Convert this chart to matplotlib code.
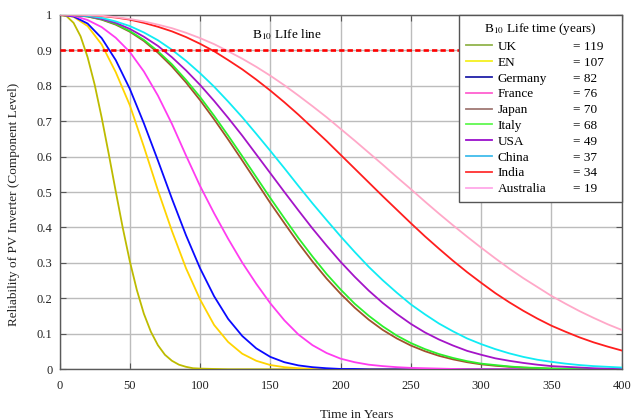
import matplotlib
matplotlib.use("Agg")
import matplotlib.pyplot as plt
from matplotlib.lines import Line2D

plt.rcParams["font.family"] = ["Liberation Serif", "DejaVu Serif"]
plt.rcParams["mathtext.fontset"] = "stix"

# legend entries (order as in the legend box)
countries = ["UK", "EN", "Germany", "France", "Japan", "Italy", "USA", "China", "India", "Australia"]
b10_life = [119, 107, 82, 76, 70, 68, 49, 37, 34, 19]

# UK falls off fast, so it is read every 5 years
years_uk = [0, 5, 10, 15, 20, 25, 30, 35, 40, 45, 50, 55, 60, 65, 70, 75, 80, 85, 90, 95, 100, 120, 400]
rel_uk = [1.0, 0.996, 0.977, 0.939, 0.880, 0.803, 0.710, 0.608, 0.502, 0.399, 0.305, 0.224, 0.157,
          0.106, 0.068, 0.041, 0.024, 0.013, 0.007, 0.003, 0.002, 0.0, 0.0]

# the others every 10 years, 0..400
years = [0, 10, 20, 30, 40, 50, 60, 70, 80, 90, 100, 110, 120, 130, 140, 150, 160, 170, 180, 190, 200,
         210, 220, 230, 240, 250, 260, 270, 280, 290, 300, 310, 320, 330, 340, 350, 360, 370, 380, 390, 400]
rel_en = [1.0, 0.994, 0.968, 0.916, 0.838, 0.745, 0.628, 0.505, 0.390, 0.285, 0.197, 0.125, 0.077, 0.044,
          0.024, 0.012, 0.006, 0.003, 0.001, 0.0, 0.0, 0.0, 0.0, 0.0, 0.0, 0.0, 0.0, 0.0, 0.0, 0.0, 0.0,
          0.0, 0.0, 0.0, 0.0, 0.0, 0.0, 0.0, 0.0, 0.0, 0.0]
rel_germany = [1.0, 0.995, 0.975, 0.934, 0.872, 0.791, 0.694, 0.589, 0.481, 0.378, 0.285, 0.206, 0.142,
               0.094, 0.059, 0.035, 0.020, 0.011, 0.006, 0.003, 0.001, 0.001, 0.0, 0.0, 0.0, 0.0, 0.0,
               0.0, 0.0, 0.0, 0.0, 0.0, 0.0, 0.0, 0.0, 0.0, 0.0, 0.0, 0.0, 0.0, 0.0]
rel_france = [1.0, 0.997, 0.985, 0.965, 0.935, 0.895, 0.840, 0.772, 0.692, 0.603, 0.517, 0.440, 0.368,
              0.301, 0.241, 0.186, 0.138, 0.098, 0.068, 0.046, 0.030, 0.020, 0.013, 0.009, 0.006, 0.004,
              0.003, 0.002, 0.001, 0.0, 0.0, 0.0, 0.0, 0.0, 0.0, 0.0, 0.0, 0.0, 0.0, 0.0, 0.0]
rel_japan = [1.0, 0.999, 0.995, 0.986, 0.972, 0.952, 0.926, 0.893, 0.854, 0.809, 0.759, 0.705, 0.648,
             0.589, 0.529, 0.469, 0.412, 0.356, 0.304, 0.256, 0.213, 0.174, 0.140, 0.111, 0.087, 0.067,
             0.051, 0.038, 0.028, 0.020, 0.014, 0.010, 0.007, 0.005, 0.003, 0.002, 0.001, 0.001, 0.0,
             0.0, 0.0]
rel_italy = [1.0, 0.999, 0.995, 0.987, 0.974, 0.954, 0.929, 0.897, 0.860, 0.816, 0.768, 0.715, 0.659,
             0.601, 0.542, 0.483, 0.426, 0.370, 0.318, 0.269, 0.225, 0.185, 0.151, 0.121, 0.095, 0.074,
             0.057, 0.043, 0.032, 0.023, 0.016, 0.012, 0.008, 0.005, 0.004, 0.002, 0.002, 0.001, 0.001,
             0.0, 0.0]
rel_usa = [1.0, 0.999, 0.996, 0.988, 0.977, 0.960, 0.938, 0.912, 0.880, 0.843, 0.802, 0.757, 0.709,
           0.659, 0.606, 0.553, 0.500, 0.448, 0.397, 0.349, 0.303, 0.261, 0.222, 0.187, 0.156, 0.128,
           0.104, 0.084, 0.067, 0.052, 0.041, 0.031, 0.024, 0.018, 0.013, 0.009, 0.007, 0.005, 0.003,
           0.002, 0.002]
rel_china = [1.0, 0.999, 0.997, 0.991, 0.981, 0.968, 0.950, 0.928, 0.901, 0.870, 0.835, 0.797, 0.755,
             0.711, 0.664, 0.616, 0.567, 0.517, 0.468, 0.421, 0.375, 0.331, 0.289, 0.251, 0.216, 0.183,
             0.155, 0.129, 0.107, 0.087, 0.071, 0.057, 0.045, 0.035, 0.027, 0.021, 0.016, 0.012, 0.009,
             0.007, 0.005]
rel_india = [1.0, 1.0, 0.999, 0.996, 0.992, 0.986, 0.977, 0.966, 0.953, 0.937, 0.918, 0.897, 0.872,
             0.846, 0.817, 0.786, 0.753, 0.718, 0.681, 0.644, 0.605, 0.566, 0.527, 0.488, 0.450, 0.412,
             0.375, 0.340, 0.306, 0.274, 0.244, 0.215, 0.189, 0.165, 0.143, 0.123, 0.106, 0.090, 0.076,
             0.064, 0.053]
rel_australia = [1.0, 1.0, 0.999, 0.997, 0.993, 0.988, 0.981, 0.972, 0.962, 0.949, 0.934, 0.917, 0.897,
                 0.876, 0.853, 0.828, 0.801, 0.772, 0.742, 0.711, 0.678, 0.645, 0.611, 0.577, 0.542,
                 0.508, 0.473, 0.439, 0.406, 0.374, 0.343, 0.313, 0.284, 0.257, 0.232, 0.207, 0.185,
                 0.164, 0.145, 0.127, 0.111]

b10_level = 0.9
x_ticks = [0, 50, 100, 150, 200, 250, 300, 350, 400]
y_ticks = [0, 0.1, 0.2, 0.3, 0.4, 0.5, 0.6, 0.7, 0.8, 0.9, 1.0]
y_tick_labels = ["0", "0.1", "0.2", "0.3", "0.4", "0.5", "0.6", "0.7", "0.8", "0.9", "1"]

curve_colors = ["#bdbb00", "#ffd400", "#0a0aff", "#ff3cf0", "#a0522d", "#2cf02c",
                "#a414c8", "#10ecf4", "#ff1e1e", "#ffa8c8"]
legend_colors = ["#92b44c", "#f4f020", "#2020a8", "#ff60d0", "#a07874", "#60f850",
                 "#9a10cc", "#40bcec", "#ff3030", "#ffa8e8"]

series = [
    (years_uk, rel_uk), (years, rel_en), (years, rel_germany), (years, rel_france),
    (years, rel_japan), (years, rel_italy), (years, rel_usa), (years, rel_china),
    (years, rel_india), (years, rel_australia),
]

fig = plt.figure(figsize=(6.44, 4.2), dpi=100)
ax = fig.add_axes([0.0924, 0.1207, 0.8730, 0.8443])

for (xs, ys), col in zip(series, curve_colors):
    ax.plot(xs, ys, color=col, lw=1.3, zorder=3)

# B10 life line
ax.axhline(b10_level, color="#ff0000", lw=1.9, linestyle=(0, (2.0, 1.2)), zorder=4)
ax.text(162, 0.944, "B$_{10}$ LIfe line", fontsize=9.5, ha="center", va="center", zorder=4)

ax.set_xlim(0, 400)
ax.set_ylim(0, 1)
ax.set_xticks(x_ticks)
ax.set_yticks(y_ticks)
ax.set_yticklabels(y_tick_labels)
ax.grid(True, color="#bcbcbc", lw=1.0)
ax.set_axisbelow(True)
ax.tick_params(direction="in", length=4, color="#555555", top=True, right=True,
               labelsize=9, labelcolor="#222222")
ax.tick_params(axis="x", pad=8)
ax.tick_params(axis="y", pad=5)
for sp in ax.spines.values():
    sp.set_color("#5a5a5a")
    sp.set_linewidth(1.0)

ax.set_ylabel("Reliability of PV Inverter (Component Level)", fontsize=9.5, color="#222222")
ax.yaxis.set_label_coords(-0.070, 0.466)
ax.set_xlabel("Time in Years", fontsize=9.5, color="#222222", va="center")
ax.xaxis.set_label_coords(0.529, -0.129)

# legend: names via the legend itself, values added as text next to them
handles = [Line2D([], [], color=c, lw=1.3) for c in legend_colors]
leg = ax.legend(handles, countries, loc="upper right", mode="expand",
                bbox_to_anchor=(0.7106, 0.0, 0.2894, 1.0), borderaxespad=0,
                title="B$_{10}$ Life time (years)", title_fontsize=9.5, fontsize=9.5,
                fancybox=False, framealpha=1, edgecolor="#555555",
                handlelength=2.0, handletextpad=0.45, labelspacing=0.27, borderpad=0.5)
leg.get_frame().set_linewidth(1.0)
leg.set_zorder(6)

fig.canvas.draw()
inv = ax.transAxes.inverted()
for txt, val in zip(leg.get_texts(), b10_life):
    bb = txt.get_window_extent()
    _, yc = inv.transform(((bb.x0 + bb.x1) / 2, (bb.y0 + bb.y1) / 2))
    ax.text(0.913, yc, f"= {val}", transform=ax.transAxes, fontsize=9.5,
            ha="left", va="center", zorder=10)

fig.savefig("out.png", dpi=100)
